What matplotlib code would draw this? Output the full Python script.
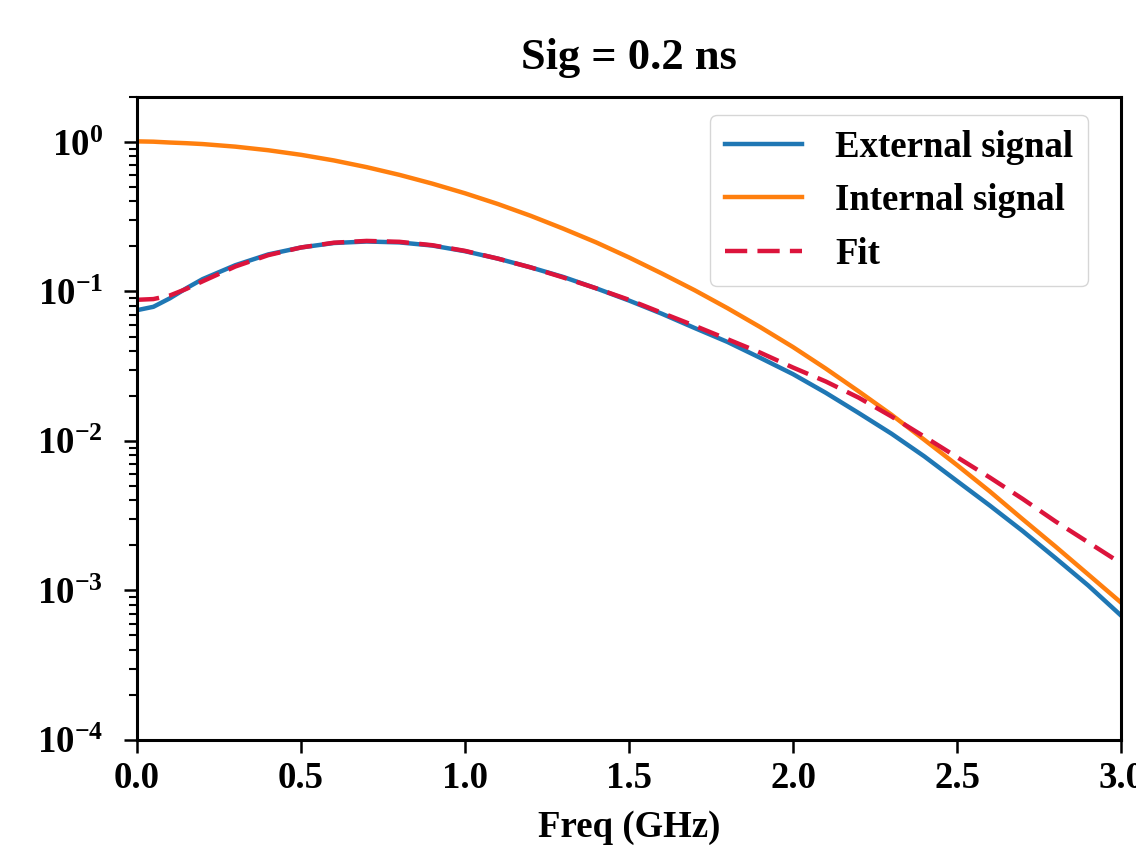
import matplotlib
matplotlib.use("Agg")
import matplotlib.pyplot as plt

# values (frequency in GHz)
freq = [0.0, 0.05, 0.1, 0.15, 0.2, 0.3, 0.4, 0.5, 0.6, 0.7, 0.8, 0.9, 1.0,
        1.1, 1.2, 1.3, 1.4, 1.5, 1.6, 1.7, 1.8, 1.9, 2.0, 2.1, 2.2, 2.3,
        2.4, 2.5, 2.6, 2.7, 2.8, 2.9, 3.0]

external = [0.075, 0.079, 0.090, 0.105, 0.121, 0.150, 0.177, 0.197, 0.211,
            0.216, 0.213, 0.203, 0.186, 0.166, 0.145, 0.125, 0.105, 0.087,
            0.071, 0.057, 0.046, 0.036, 0.028, 0.021, 0.0154, 0.0112,
            0.0079, 0.0054, 0.0037, 0.0025, 0.00165, 0.00108, 0.00068]

internal = [1.01, 1.005, 0.992, 0.982, 0.969, 0.931, 0.881, 0.821, 0.753,
            0.679, 0.603, 0.527, 0.454, 0.385, 0.321, 0.263, 0.213, 0.169,
            0.132, 0.102, 0.0774, 0.0578, 0.0425, 0.0305, 0.0215, 0.0150,
            0.0102, 0.0069, 0.0046, 0.0030, 0.00197, 0.00128, 0.00083]

fit = [0.088, 0.089, 0.094, 0.104, 0.117, 0.147, 0.175, 0.197, 0.212,
       0.218, 0.215, 0.204, 0.187, 0.166, 0.145, 0.124, 0.105, 0.088,
       0.072, 0.059, 0.048, 0.039, 0.031, 0.025, 0.0195, 0.0146, 0.0107,
       0.0078, 0.0057, 0.0041, 0.0029, 0.0021, 0.00152]

plt.rcParams['font.family'] = 'Liberation Serif'
plt.rcParams['font.weight'] = 'bold'
plt.rcParams['mathtext.fontset'] = 'custom'
plt.rcParams['mathtext.rm'] = 'Liberation Serif:bold'
plt.rcParams['mathtext.it'] = 'Liberation Serif:bold'
plt.rcParams['mathtext.bf'] = 'Liberation Serif:bold'

fig = plt.figure(figsize=(11.36, 8.48), dpi=100)
ax = fig.add_axes([0.1206, 0.1274, 0.8662, 0.7582])

ax.plot(freq, external, color='#1f77b4', lw=3.2, label='External signal')
ax.plot(freq, internal, color='#ff7f0e', lw=3.2, label='Internal signal')
ax.plot(freq, fit, color='crimson', lw=3.2, ls='--', dashes=(5.0, 2.3), label='Fit')

ax.set_yscale('log')
ax.set_xlim(0, 3)
ax.set_ylim(1e-4, 2)
ax.set_xticks([0, 0.5, 1.0, 1.5, 2.0, 2.5, 3.0])

ax.set_title('Sig = 0.2 ns', fontsize=32, fontweight='bold', pad=20)
ax.set_xlabel('Freq (GHz)', fontsize=26.5, fontweight='bold', labelpad=10)

for s in ax.spines.values():
    s.set_linewidth(2.2)
ax.tick_params(which='major', length=9.5, width=1.8, labelsize=26.5)
ax.tick_params(axis='x', which='major', pad=6)
ax.tick_params(axis='y', which='major', pad=15)
ax.tick_params(which='minor', length=5.8, width=1.5)

ax.legend(loc='upper right', bbox_to_anchor=(0.9665, 0.972), borderaxespad=0,
          handlelength=2.1, handletextpad=0.9,
          prop={'family': 'Liberation Serif', 'weight': 'bold', 'size': 26.5})

fig.savefig('out.png', dpi=100)
